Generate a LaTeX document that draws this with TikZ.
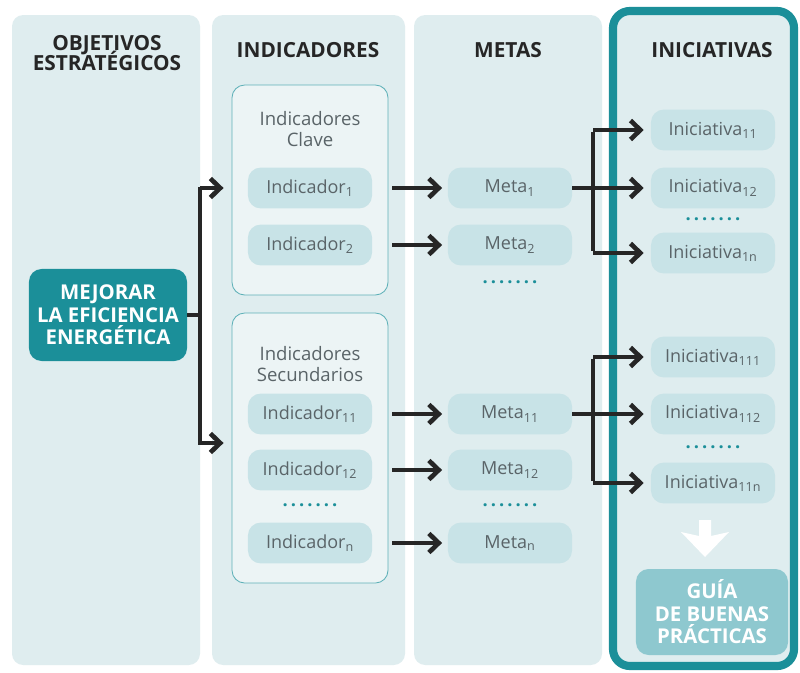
\documentclass[tikz,border=0pt]{standalone}
\usepackage{fontspec}
\setmainfont{Open Sans}
\usetikzlibrary{arrows.meta}
\definecolor{colbg}{HTML}{DFEDEF}
\definecolor{teal}{HTML}{1B8F99}
\definecolor{pill}{HTML}{C8E3E7}
\definecolor{txt}{HTML}{5A6468}
\definecolor{guia}{HTML}{8EC8CF}

\begin{document}
\begin{tikzpicture}[x=0.025cm,y=-0.025cm]
\tikzstyle{every node}+=[inner sep=0pt]
\tikzstyle{column}=[fill=colbg, rounded corners=8pt]
\tikzstyle{head}=[font=\bfseries\fontsize{14.8}{15}\selectfont, text=black!85, align=center]
\tikzstyle{group}=[draw=teal!70, line width=0.6pt, rounded corners=9pt, fill=colbg!60!white]
\tikzstyle{pill}=[fill=pill, rounded corners=9pt, minimum width=3.1cm, minimum height=1.02cm, text=txt, font=\fontsize{12.8}{13}\selectfont]
\tikzstyle{dots}=[text=teal, font=\bfseries\fontsize{13}{13}\selectfont]
\tikzstyle{ln}=[line width=2.9pt, black!85]
\tikzstyle{arr}=[ln, -{Straight Barb[length=7pt,width=13.5pt,line width=3.3pt]}]
\useasboundingbox (0,0) rectangle (800,672);
\fill[white] (0,0) rectangle (800,672);
% columns
\fill[column] (12,15) rectangle (200,665);
\fill[column] (212,15) rectangle (405,665);
\fill[column] (414,15) rectangle (602,665);
\draw[column, draw=teal, line width=5.8pt, rounded corners=12pt] (613,11) rectangle (794,666);
% headers
\node[head] (hobj) at (107,53) {OBJETIVOS\\[-4pt]ESTRATÉGICOS};
\node[head] (hind) at (308,50) {INDICADORES};
\node[head] (hmet) at (508,50) {METAS};
\node[head] (hini) at (712,50) {INICIATIVAS};
% objetivo
\node[fill=teal, rounded corners=9pt, minimum width=3.95cm, minimum height=2.3cm, text=white, align=center,
  font=\bfseries\fontsize{14.5}{16}\selectfont] (obj) at (108,315) {MEJORAR\\LA EFICIENCIA\\ENERGÉTICA};
% indicadores
\draw[group] (232,85) rectangle (388,295);
\draw[group] (232,313) rectangle (388,583);
\coordinate (clave) at (232,188);
\coordinate (secund) at (232,443);
\node[text=txt, align=center, font=\fontsize{13.2}{15.5}\selectfont] (tclave) at (310,129) {Indicadores\\Clave};
\node[text=txt, align=center, font=\fontsize{13.2}{15.5}\selectfont] (tsec) at (310,364) {Indicadores\\Secundarios};
\node[pill] (ind1) at (310,188) {Indicador\textsubscript{1}};
\node[pill] (ind2) at (310,245) {Indicador\textsubscript{2}};
\node[pill] (ind11) at (310,414) {Indicador\textsubscript{11}};
\node[pill] (ind12) at (310,470) {Indicador\textsubscript{12}};
\node[dots] (dind) at (310,505) {.\,.\,.\,.\,.\,.\,.};
\node[pill] (indn) at (310,543) {Indicador\textsubscript{n}};
% metas
\node[pill] (meta1) at (510,188) {Meta\textsubscript{1}};
\node[pill] (meta2) at (510,245) {Meta\textsubscript{2}};
\node[dots] (dmeta) at (510,282) {.\,.\,.\,.\,.\,.\,.};
\node[pill] (meta11) at (510,414) {Meta\textsubscript{11}};
\node[pill] (meta12) at (510,470) {Meta\textsubscript{12}};
\node[dots] (dmeta2) at (510,505) {.\,.\,.\,.\,.\,.\,.};
\node[pill] (metan) at (510,543) {Meta\textsubscript{n}};
% iniciativas
\node[pill] (ini11) at (713,130) {Iniciativa\textsubscript{11}};
\node[pill] (ini12) at (713,188) {Iniciativa\textsubscript{12}};
\node[dots] (dini) at (713,219) {.\,.\,.\,.\,.\,.\,.};
\node[pill] (ini1n) at (713,253) {Iniciativa\textsubscript{1n}};
\node[pill] (ini111) at (713,357) {Iniciativa\textsubscript{111}};
\node[pill] (ini112) at (713,414) {Iniciativa\textsubscript{112}};
\node[dots] (dini2) at (713,447) {.\,.\,.\,.\,.\,.\,.};
\node[pill] (ini11n) at (713,483) {Iniciativa\textsubscript{11n}};
% guia
\fill[white] (699,520) -- (711,520) -- (711,536) -- (729,532) -- (705,557) -- (681,532) -- (699,536) -- cycle;
\node[fill=guia, rounded corners=9pt, minimum width=3.8cm, minimum height=2.15cm, text=white, align=center,
  font=\bfseries\fontsize{14.5}{16}\selectfont] (guia) at (712,612) {GUÍA\\DE BUENAS\\PRÁCTICAS};
% conectores
\coordinate (j0) at (200,315);
\draw[ln] (obj.east) -- (j0);
\draw[ln] (200,186.5) -- (200,444.5);
\draw[arr] (200,188) -- ([xshift=-6]clave);
\draw[arr] (200,443) -- ([xshift=-6]secund);
\foreach \a/\b in {ind1/meta1, ind2/meta2, ind11/meta11, ind12/meta12, indn/metan}
  \draw[arr] (392,0 |- \a) -- ([xshift=-4]\b.west);
\coordinate (j1) at (593,188);
\coordinate (j2) at (593,414);
\draw[ln] (meta1.east) -- (j1);
\draw[ln] (meta11.east) -- (j2);
\draw[ln] ([yshift=-1.5]j1 |- ini11) -- ([yshift=1.5]j1 |- ini1n);
\draw[ln] ([yshift=-1.5]j2 |- ini111) -- ([yshift=1.5]j2 |- ini11n);
\foreach \b in {ini11, ini12, ini1n}
  \draw[arr] (j1 |- \b) -- ([xshift=-5]\b.west);
\foreach \b in {ini111, ini112, ini11n}
  \draw[arr] (j2 |- \b) -- ([xshift=-5]\b.west);
\end{tikzpicture}
\end{document}
